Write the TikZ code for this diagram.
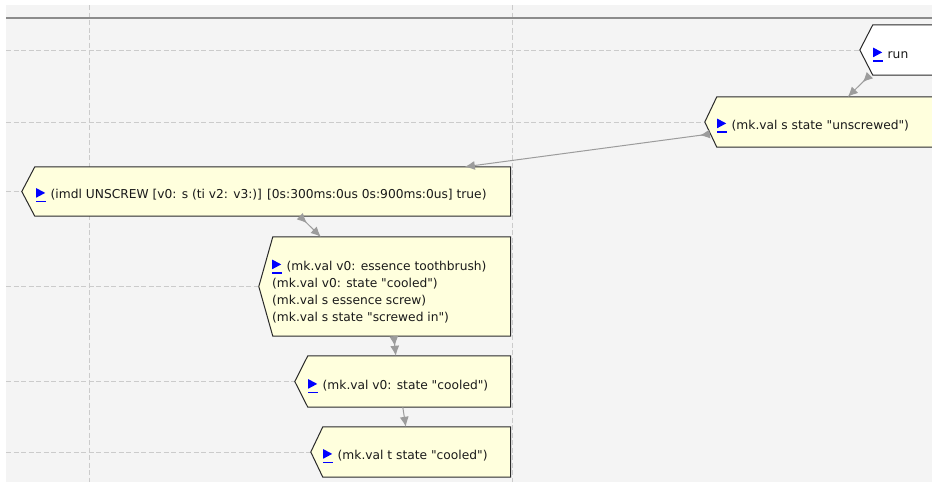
\documentclass[tikz,border=0pt]{standalone}
\usepackage{fontspec}
\setmainfont{DejaVu Sans}[Ligatures=TeXOff]
\usetikzlibrary{arrows.meta}

\definecolor{canvasbg}{HTML}{F4F4F4}
\definecolor{gridgray}{HTML}{CBCBCB}
\definecolor{notefill}{HTML}{FFFFDD}
\definecolor{edgegray}{HTML}{9C9C9C}
\definecolor{iconblue}{HTML}{0000FF}
\definecolor{rulegray}{HTML}{8C8C8C}
\definecolor{borderdark}{HTML}{2A2A2A}
\definecolor{textblack}{HTML}{1A1A1A}

% blue "play" marker with its underline, placed before each node text
\newcommand\runicon{\tikz[baseline=0pt,x=1pt,y=1pt]{%
  \fill[iconblue] (0,0.8) -- (9,5.6) -- (0,10.4) -- cycle;
  \fill[iconblue] (0,-3.6) rectangle (10,-2.1);
  \path (0,0) -- (14.5,0);}}

% chevron outline around an (empty) rectangular node
\newcommand\chevron[3]{%
  \filldraw[fill=#3, draw=borderdark, line width=1pt, line join=miter]
    (#1.north east) -- (#1.north west) -- ([xshift=-#2pt]#1.west)
    -- (#1.south west) -- (#1.south east) -- cycle;}

\tikzset{
  holder/.style={inner sep=0pt, rectangle},
  lbl/.style={inner sep=0pt, anchor=base west, text=textblack,
    font=\fontsize{12.25}{14}\selectfont},
  gridline/.style={draw=gridgray, line width=1pt, dash pattern=on 5pt off 2.5pt},
  tipA/.tip={Latex[length=10pt,width=9pt]},
  link/.style={draw=edgegray, line width=1pt, -{tipA}},
  linkboth/.style={draw=edgegray, line width=1pt, {tipA[reversed]}-{tipA}},
}

\begin{document}
\begin{tikzpicture}[x=1pt,y=-1pt]
\useasboundingbox (0,0) rectangle (932,483);
\clip (0,0) rectangle (932,483);
\fill[white] (0,0) rectangle (932,483);
\fill[canvasbg] (6,5) rectangle (932,482);

% node frames
\node[holder, minimum width=67pt,    minimum height=50pt] (run)   at (906.5,50)    {};
\node[holder, minimum width=223pt,   minimum height=50pt] (unscr) at (828.5,122)   {};
\node[holder, minimum width=475.5pt, minimum height=49pt] (imdl)  at (272.75,191.5) {};
\node[holder, minimum width=237.5pt, minimum height=99pt] (grp)   at (391.75,286.5) {};
\node[holder, minimum width=202.5pt, minimum height=51pt] (vzero) at (409.25,381.5) {};
\node[holder, minimum width=187.5pt, minimum height=50pt] (tnode) at (416.75,452)  {};

% timeline grid
\draw[gridline] (89,5) -- (89,482);
\draw[gridline] (512,5) -- (512,482);
\draw[gridline] (6,50) -- ([xshift=-13pt]run.west);
\draw[gridline] (6,122) -- ([xshift=-12pt]unscr.west);
\draw[gridline] (6,191.5) -- ([xshift=-13pt]imdl.west);
\draw[gridline] (6,286.5) -- ([xshift=-14pt]grp.west);
\draw[gridline] (6,381.5) -- ([xshift=-13pt]vzero.west);
\draw[gridline] (6,452) -- ([xshift=-12pt]tnode.west);
\draw[rulegray, line width=1.4pt] (6,18) -- (932,18);

% node outlines
\chevron{run}{13}{white}
\chevron{unscr}{12}{notefill}
\chevron{imdl}{13}{notefill}
\chevron{grp}{14}{notefill}
\chevron{vzero}{13}{notefill}
\chevron{tnode}{12}{notefill}

% node texts
\node[lbl] (run-t)   at (873,58)    {\runicon run};
\node[lbl] (unscr-t) at (717,129)   {\runicon(mk.val s state "unscrewed")};
\node[lbl] (imdl-t)  at (36,198.5)  {\runicon(imdl UNSCREW [v0: s (ti v2: v3:)] [0s:300ms:0us 0s:900ms:0us] true)};
\node[lbl] (grp-a)   at (272,270)   {\runicon(mk.val v0: essence toothbrush)};
\node[lbl] (grp-b)   at (272,287.5) {(mk.val v0: state "cooled")};
\node[lbl] (grp-c)   at (272,304.5) {(mk.val s essence screw)};
\node[lbl] (grp-d)   at (272,321.5) {(mk.val s state "screwed in")};
\node[lbl] (vzero-t) at (308,389.5) {\runicon(mk.val v0: state "cooled")};
\node[lbl] (tnode-t) at (323,459.5) {\runicon(mk.val t state "cooled")};

% connectors
\draw[linkboth] ([xshift=-3pt]run.south west) -- ([xshift=131pt]unscr.north west);
\draw[linkboth] ([xshift=-7pt,yshift=-12pt]unscr.west) -- ([xshift=430pt]imdl.north west);
\draw[linkboth] ([xshift=265pt]imdl.south west) -- ([xshift=48pt]grp.north west);
\draw[linkboth] ([xshift=121pt]grp.south west) -- ([xshift=88pt]vzero.north west);
\draw[link] ([xshift=95pt]vzero.south west) -- ([xshift=83pt]tnode.north west);
\end{tikzpicture}
\end{document}
